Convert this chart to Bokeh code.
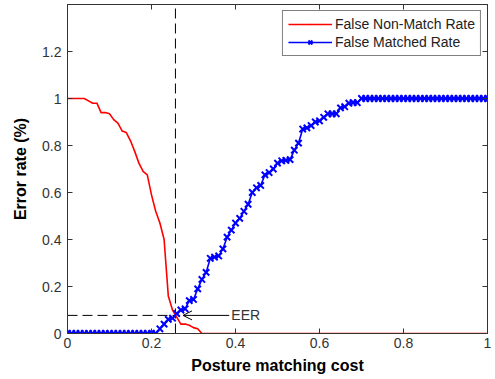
from bokeh.plotting import figure
from bokeh.models import Range1d, LinearAxis, FixedTicker, Arrow, OpenHead, Label, Legend, LegendItem
from bokeh.embed import file_html
from bokeh.resources import INLINE

# data
x = [round(i * 0.01, 2) for i in range(101)]
fnmr = ([1.0] * 5 + [0.99, 0.98, 0.98, 0.94, 0.94,
        0.935, 0.91, 0.895, 0.862, 0.855, 0.82, 0.775, 0.725, 0.69, 0.675,
        0.59, 0.52, 0.47, 0.40, 0.16, 0.10, 0.07, 0.04, 0.04, 0.035,
        0.025, 0.02] + [0.0] * 69)
fmr = ([0.0] * 22 + [0.02, 0.04, 0.06, 0.065, 0.085, 0.10, 0.105, 0.14,
        0.145, 0.19, 0.23, 0.26, 0.32, 0.325, 0.33, 0.36, 0.41, 0.44,
        0.47, 0.49, 0.52, 0.55, 0.60, 0.62, 0.63, 0.675, 0.685, 0.70,
        0.725, 0.735, 0.737, 0.74, 0.78, 0.81, 0.87, 0.875, 0.885, 0.90,
        0.905, 0.92, 0.935, 0.935, 0.935, 0.96, 0.965, 0.98, 0.982, 0.982]
       + [1.0] * 31)
eer_x = 0.257
eer_y = 0.077
x_ticks = [0, 0.2, 0.4, 0.6, 0.8, 1]
y_ticks = [0, 0.2, 0.4, 0.6, 0.8, 1, 1.2]

FONT = "Liberation Sans"

p = figure(width=495, height=379, output_backend="svg", toolbar_location=None,
           x_range=Range1d(0, 1), y_range=Range1d(0, 1.4),
           min_border_left=67, min_border_right=8, min_border_top=4, min_border_bottom=46)
p.grid.visible = False
p.outline_line_color = "#333333"
p.outline_line_width = 1
p.background_fill_color = "white"
p.border_fill_color = "white"

p.xaxis.ticker = FixedTicker(ticks=x_ticks)
p.yaxis.ticker = FixedTicker(ticks=y_ticks)
p.xaxis.major_label_overrides = {0: "0", 1: "1"}
p.yaxis.major_label_overrides = {0: "0", 1: "1"}
p.xaxis.axis_label = "Posture matching cost"
p.yaxis.axis_label = "Error rate (%)"
for ax in (p.xaxis, p.yaxis):
    ax.major_tick_in = 5
    ax.major_tick_out = 0
    ax.minor_tick_line_color = None
    ax.axis_line_color = "#333333"
    ax.major_tick_line_color = "#333333"
    ax.major_label_text_font = FONT
    ax.major_label_text_font_size = "14px"
    ax.major_label_text_color = "#333333"
    ax.axis_label_text_font = FONT
    ax.axis_label_text_font_size = "16px"
    ax.axis_label_text_font_style = "bold"
    ax.axis_label_text_color = "black"
p.xaxis.major_label_standoff = 4
p.xaxis.axis_label_standoff = 6
p.yaxis.major_label_standoff = 6
p.yaxis.axis_label_standoff = 10

top = LinearAxis(ticker=FixedTicker(ticks=x_ticks),
                 major_label_overrides={t: "" for t in x_ticks},
                 major_tick_in=5, major_tick_out=0, minor_tick_line_color=None,
                 axis_line_color="#333333", major_tick_line_color="#333333")
right = LinearAxis(ticker=FixedTicker(ticks=y_ticks),
                   major_label_overrides={t: "" for t in y_ticks},
                   major_tick_in=5, major_tick_out=0, minor_tick_line_color=None,
                   axis_line_color="#333333", major_tick_line_color="#333333")
p.add_layout(top, "above")
p.add_layout(right, "right")

# EER guides
p.line([eer_x, eer_x], [0, 1.4], line_color="black", line_dash="10 5", line_width=1)
p.line([0, eer_x], [eer_y, eer_y], line_color="black", line_dash="10 5", line_width=1)

r_red = p.line(x, fnmr, line_color="red", line_width=1.6)
r_red_m = p.scatter(x, fnmr, marker="dot", size=4, color="red")
r_blue = p.line(x, fmr, line_color="blue", line_width=1.6)
r_blue_m = p.scatter(x, fmr, marker="x", size=9, line_color="blue", line_width=2)

p.add_layout(Arrow(end=OpenHead(size=9, line_color="black", line_width=1),
                   x_start=0.385, y_start=eer_y, x_end=0.275, y_end=eer_y,
                   line_color="black", line_width=1))
p.add_layout(Label(x=0.39, y=eer_y, text="EER", text_font=FONT, text_font_size="14px",
                   text_color="#333333", text_baseline="middle"))

legend = Legend(items=[LegendItem(label="False Non-Match Rate", renderers=[r_red, r_red_m]),
                       LegendItem(label="False Matched Rate", renderers=[r_blue, r_blue_m])],
                location="top_right", border_line_color="black", border_line_width=1,
                label_text_font=FONT, label_text_font_size="14px", label_text_color="#222222",
                glyph_width=44, glyph_height=14, spacing=2, padding=5, margin=6,
                label_standoff=3, background_fill_alpha=1)
p.add_layout(legend)

open("out.html", "w").write(file_html(p, INLINE))
